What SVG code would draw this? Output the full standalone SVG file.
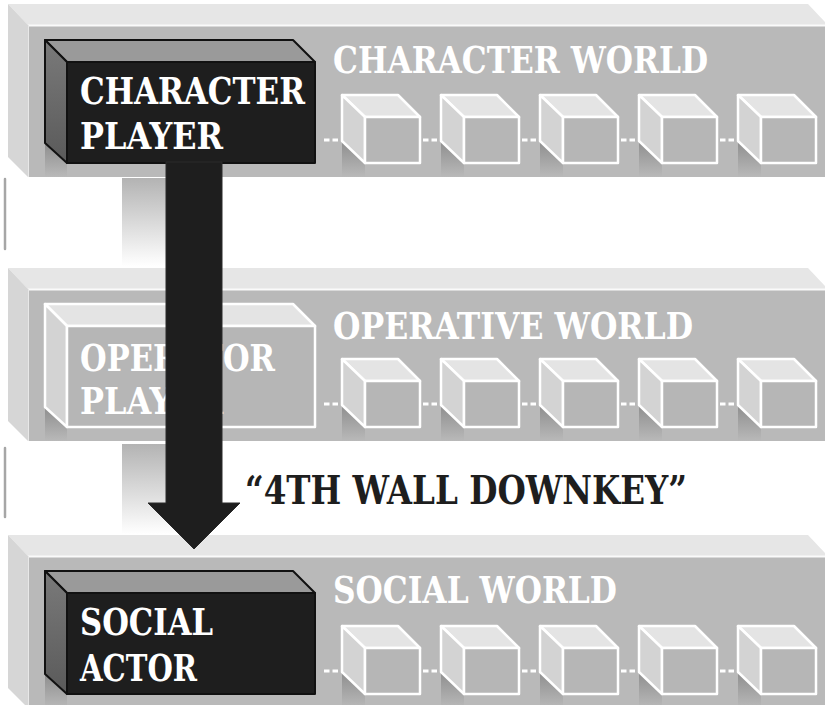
<svg xmlns="http://www.w3.org/2000/svg" xmlns:xlink="http://www.w3.org/1999/xlink" width="825" height="705" viewBox="0 0 825 705">
<style>
  .top{fill:#e6e6e6}
  .side{fill:#d6d6d6}
  .front{fill:#b9b9b9}
  .ct{fill:#e4e4e4;stroke:#fff;stroke-width:2.5;stroke-linejoin:round}
  .cs{fill:#d3d3d3;stroke:#fff;stroke-width:2.5;stroke-linejoin:round}
  .cf{fill:#b6b6b6;stroke:#fff;stroke-width:2.5;stroke-linejoin:round}
  .bt{fill:#9a9a9a;stroke:#111;stroke-width:2;stroke-linejoin:round}
  .bs{fill:url(#darkside);stroke:#111;stroke-width:2;stroke-linejoin:round}
  .bf{fill:#1e1e1e;stroke:#111;stroke-width:2;stroke-linejoin:round}
  .txt{font-family:"DejaVu Serif Condensed","DejaVu Serif",serif;font-weight:bold}
  .world{font-size:38px;fill:#fff}
  .lbl{font-size:37px;fill:#fff}
  .quote{font-size:40px;fill:#1e1e1e}
  .dash{stroke:#fff;stroke-width:3;stroke-dasharray:5.5 3;fill:none}
  .edge{stroke:#a6a6a6;stroke-width:2.5;stroke-linecap:round}
</style>
<defs>
  <linearGradient id="shadow" x1="0" y1="0" x2="0" y2="1">
    <stop offset="0" stop-color="#8e8e8e"/>
    <stop offset="1" stop-color="#b9b9b9"/>
  </linearGradient>
  <linearGradient id="pillar" x1="0" y1="0" x2="0" y2="1">
    <stop offset="0" stop-color="#b3b3b3"/>
    <stop offset="1" stop-color="#ffffff"/>
  </linearGradient>
  <linearGradient id="darkside" x1="0" y1="0" x2="0" y2="1">
    <stop offset="0" stop-color="#7a7a7a"/>
    <stop offset="1" stop-color="#5a5a5a"/>
  </linearGradient>
  <g id="slab">
    <polygon class="top" points="8,0 808,0 825,18 825,21 28,21"/>
    <polygon class="side" points="8,0 28,21 28,173 8,153"/>
    <rect class="front" x="28" y="21" width="797" height="152"/>
    <line x1="28" y1="21.5" x2="825" y2="21.5" stroke="#fafafa" stroke-width="2"/>
    <line x1="28.5" y1="21" x2="28.5" y2="173" stroke="#e8e8e8" stroke-width="1"/>
  </g>
  <g id="cube">
    <polygon fill="url(#shadow)" points="0,46 23,68 23,82 0,82"/>
    <polygon class="ct" points="0,0 56,0 78,22 23,22"/>
    <polygon class="cs" points="0,0 23,22 23,68 0,46"/>
    <rect class="cf" x="23" y="22" width="55" height="46"/>
  </g>
</defs>

<rect width="825" height="705" fill="#ffffff"/>

<!-- gaps between slabs -->
<g id="spacers">
  <rect x="122" y="178" width="55" height="88" fill="url(#pillar)"/>
  <rect x="122" y="444" width="55" height="90" fill="url(#pillar)"/>
  <line class="edge" x1="5" y1="179" x2="5" y2="249"/>
  <line class="edge" x1="5" y1="448" x2="5" y2="517"/>
</g>

<!-- CHARACTER WORLD -->
<g id="character-world" transform="translate(0,4)">
  <use xlink:href="#slab"/>
  <text class="txt world" x="333" y="69" textLength="375" lengthAdjust="spacingAndGlyphs">CHARACTER WORLD</text>
  <path class="dash" d="M324 136H339M423 136H437M522 136H536M621 136H635M720 136H734"/>
  <g id="cw-cube-1"><use xlink:href="#cube" x="342" y="91"/></g>
  <g id="cw-cube-2"><use xlink:href="#cube" x="441" y="91"/></g>
  <g id="cw-cube-3"><use xlink:href="#cube" x="540" y="91"/></g>
  <g id="cw-cube-4"><use xlink:href="#cube" x="639" y="91"/></g>
  <g id="cw-cube-5"><use xlink:href="#cube" x="738" y="91"/></g>
</g>
<g id="character-player" transform="translate(45,40)">
  <polygon fill="url(#shadow)" points="0,103 22,123 22,137 0,137"/>
  <polygon class="bt" points="0,0 248,0 270,22 22,22"/>
  <polygon class="bs" points="0,0 22,22 22,123 0,103"/>
  <rect class="bf" x="22" y="22" width="248" height="101"/>
  <text class="txt lbl" x="35" y="64" textLength="225" lengthAdjust="spacingAndGlyphs">CHARACTER</text>
  <text class="txt lbl" x="35" y="109" textLength="143" lengthAdjust="spacingAndGlyphs">PLAYER</text>
</g>

<!-- OPERATIVE WORLD -->
<g id="operative-world" transform="translate(0,268)">
  <use xlink:href="#slab"/>
  <text class="txt world" x="333" y="71" textLength="360" lengthAdjust="spacingAndGlyphs">OPERATIVE WORLD</text>
  <path class="dash" d="M324 136H339M423 136H437M522 136H536M621 136H635M720 136H734"/>
  <g id="ow-cube-1"><use xlink:href="#cube" x="342" y="91"/></g>
  <g id="ow-cube-2"><use xlink:href="#cube" x="441" y="91"/></g>
  <g id="ow-cube-3"><use xlink:href="#cube" x="540" y="91"/></g>
  <g id="ow-cube-4"><use xlink:href="#cube" x="639" y="91"/></g>
  <g id="ow-cube-5"><use xlink:href="#cube" x="738" y="91"/></g>
</g>
<g id="operator-player" transform="translate(45,304)">
  <polygon fill="url(#shadow)" points="0,103 22,123 22,137 0,137"/>
  <polygon class="ct" points="0,0 248,0 270,22 22,22"/>
  <polygon class="cs" points="0,0 22,22 22,123 0,103"/>
  <rect class="cf" x="22" y="22" width="248" height="101"/>
  <text class="txt lbl" x="35" y="67" textLength="195" lengthAdjust="spacingAndGlyphs">OPERATOR</text>
  <text class="txt lbl" x="35" y="110" textLength="143" lengthAdjust="spacingAndGlyphs">PLAYER</text>
</g>

<!-- SOCIAL WORLD -->
<g id="social-world" transform="translate(0,535)">
  <use xlink:href="#slab"/>
  <text class="txt world" x="333" y="68" textLength="284" lengthAdjust="spacingAndGlyphs">SOCIAL WORLD</text>
  <path class="dash" d="M324 136H339M423 136H437M522 136H536M621 136H635M720 136H734"/>
  <g id="sw-cube-1"><use xlink:href="#cube" x="342" y="91"/></g>
  <g id="sw-cube-2"><use xlink:href="#cube" x="441" y="91"/></g>
  <g id="sw-cube-3"><use xlink:href="#cube" x="540" y="91"/></g>
  <g id="sw-cube-4"><use xlink:href="#cube" x="639" y="91"/></g>
  <g id="sw-cube-5"><use xlink:href="#cube" x="738" y="91"/></g>
</g>
<g id="social-actor" transform="translate(45,571)">
  <polygon fill="url(#shadow)" points="0,103 22,123 22,137 0,137"/>
  <polygon class="bt" points="0,0 248,0 270,22 22,22"/>
  <polygon class="bs" points="0,0 22,22 22,123 0,103"/>
  <rect class="bf" x="22" y="22" width="248" height="101"/>
  <text class="txt lbl" x="35" y="64" textLength="133" lengthAdjust="spacingAndGlyphs">SOCIAL</text>
  <text class="txt lbl" x="35" y="110" textLength="117" lengthAdjust="spacingAndGlyphs">ACTOR</text>
</g>

<!-- connector -->
<g id="connectors">
  <polygon fill="#1e1e1e" stroke="#2a2a2a" stroke-width="1" stroke-linejoin="miter" points="166,162 222,162 222,503 240,503 194,549 148,503 166,503"/>
  <text class="txt quote" x="245" y="504" textLength="442" lengthAdjust="spacingAndGlyphs">“4TH WALL DOWNKEY”</text>
</g>
</svg>
